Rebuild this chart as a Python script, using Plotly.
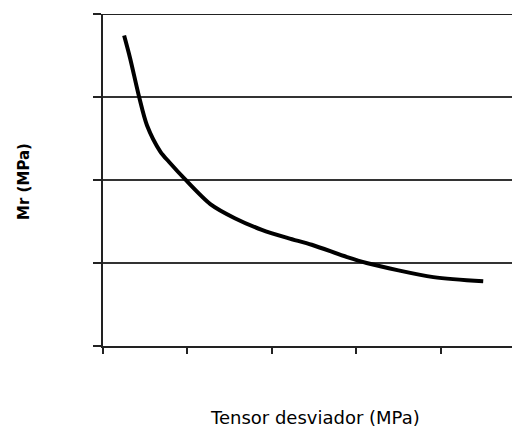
import plotly.graph_objects as go

# Data (arbitrary units: x in tick steps, y in gridline steps)
tensor = [0.25, 0.32, 0.43, 0.52, 0.68, 0.78, 0.97, 1.27, 1.56, 1.88, 2.19, 2.47, 2.89, 3.12, 3.91, 4.50]
mr = [3.74, 3.47, 2.99, 2.66, 2.34, 2.22, 2.01, 1.71, 1.54, 1.40, 1.30, 1.22, 1.07, 1.00, 0.83, 0.78]
x_ticks = [0, 1, 2, 3, 4]
y_ticks = [0, 1, 2, 3, 4]
x_title = "Tensor desviador (MPa)"
y_title = "Mr (MPa)"
y_max = 4

fig = go.Figure()
fig.add_trace(go.Scatter(
    x=tensor, y=mr, mode="lines",
    line=dict(color="black", width=4, shape="spline", smoothing=0.8),
    hoverinfo="skip", showlegend=False,
))

fig.update_layout(
    width=520, height=420,
    margin=dict(l=95, r=0, t=6, b=82),
    paper_bgcolor="white", plot_bgcolor="white",
    font=dict(family="DejaVu Sans, Liberation Sans, sans-serif", color="black"),
    xaxis=dict(
        range=[0, 5.03], tickvals=x_ticks, showticklabels=False,
        ticks="outside", ticklen=6, tickwidth=1.5, tickcolor="#222",
        showline=True, linecolor="#222", linewidth=2,
        showgrid=False, zeroline=False,
    ),
    yaxis=dict(
        range=[0, y_max], tickvals=y_ticks, showticklabels=False,
        ticks="outside", ticklen=8, tickwidth=1.5, tickcolor="#222",
        showline=True, linecolor="#222", linewidth=2,
        showgrid=True, gridcolor="#333", gridwidth=1.5,
        zeroline=False,
    ),
    shapes=[
        dict(type="line", xref="paper", yref="y", x0=0, x1=1, y0=y_max, y1=y_max,
             line=dict(color="#222", width=2), layer="below"),
    ],
    annotations=[
        dict(text=x_title, xref="paper", yref="paper", x=0.498, y=-0.214,
             xanchor="center", yanchor="middle", showarrow=False,
             font=dict(size=18, color="black")),
        dict(text="<b>" + y_title + "</b>", xref="paper", yref="paper",
             x=-0.186, y=0.497, xanchor="center", yanchor="middle",
             showarrow=False, textangle=-90,
             font=dict(size=15, color="black")),
    ],
)

fig.write_html("out.html")
